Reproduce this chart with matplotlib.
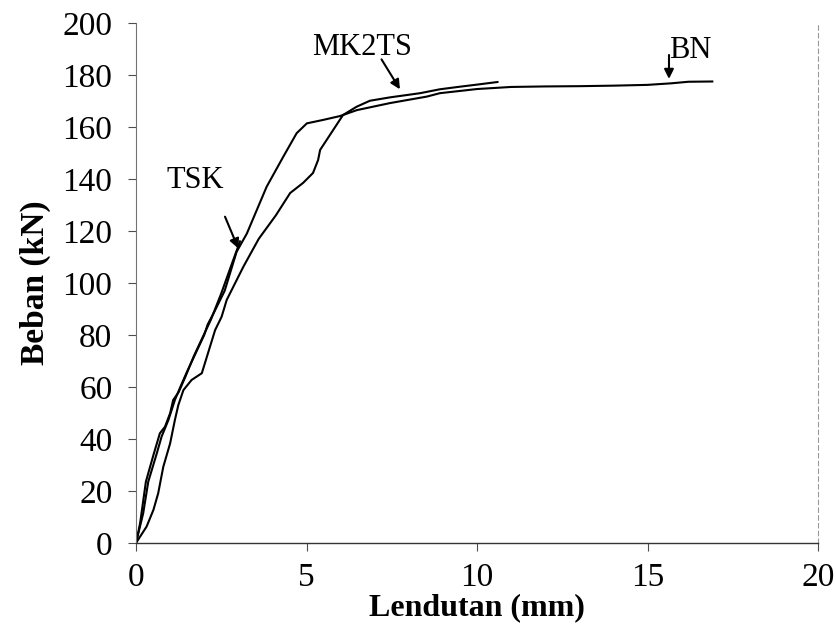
import matplotlib
matplotlib.use("Agg")
import matplotlib.pyplot as plt

# deflection (mm) vs load (kN)
bn_x = [0, 0.21, 0.36, 0.61, 0.75, 0.95, 1.14, 1.3, 1.5, 1.75, 2.0, 2.1, 2.3, 2.6, 2.95,
        3.25, 3.83, 4.32, 4.71, 5.01, 5.48, 5.98, 6.48, 7.45, 8.53, 8.91, 10.0, 11.0,
        12.0, 13.0, 14.0, 15.0, 15.7, 16.2, 16.9]
bn_y = [0, 11.4, 23.6, 34.5, 40.9, 47.3, 55, 60, 66, 73, 80, 84, 89, 97, 112,
        119, 137, 148.6, 157.6, 161.4, 162.7, 164.2, 166.5, 169.2, 171.7, 173, 174.6, 175.4,
        175.6, 175.7, 175.9, 176.2, 176.8, 177.4, 177.5]

mk_x = [0, 0.31, 0.51, 0.65, 0.80, 1.0, 1.14, 1.24, 1.39, 1.63, 1.93, 2.32, 2.51, 2.66,
        3.15, 3.6, 4.1, 4.52, 4.9, 5.19, 5.34, 5.40, 5.78, 6.07, 6.47, 6.86, 7.45, 8.33,
        8.91, 9.5, 10.0, 10.6]
mk_y = [0, 6.3, 12.7, 19.1, 29.3, 38.3, 47.3, 53, 58.8, 62.7, 65.3, 81.9, 87, 93.5,
        106.3, 117, 126, 134.6, 138.5, 142.3, 147.3, 151.2, 158.8, 164.6, 167.8, 170.1, 171.4, 173,
        174.5, 175.5, 176.3, 177.3]

tsk_x = [0, 0.12, 0.29, 0.51, 0.70, 0.85, 1.0, 1.09, 1.25, 1.45, 1.7, 1.95, 2.2, 2.5, 2.8, 3.05]
tsk_y = [0, 7.6, 23.6, 33.8, 42.2, 44.7, 49.9, 55, 58, 64, 72, 79, 86, 96, 107, 116]

x_ticks = [0, 5, 10, 15, 20]
y_ticks = [0, 20, 40, 60, 80, 100, 120, 140, 160, 180, 200]

plt.rcParams['font.family'] = ['Liberation Serif', 'DejaVu Serif']

fig = plt.figure(figsize=(8.37, 6.37), dpi=100)
ax = fig.add_axes([0.1625, 0.1476, 0.8148, 0.8163])

for xs, ys in [(bn_x, bn_y), (mk_x, mk_y), (tsk_x, tsk_y)]:
    ax.plot(xs, ys, color='black', lw=1.5)

ax.set_xlim(0, 20)
ax.set_ylim(0, 200)
ax.set_xticks(x_ticks)
ax.set_yticks(y_ticks)
ax.tick_params(axis='both', labelsize=24, direction='out', length=6, width=0.8, color='0.3')
ax.tick_params(axis='y', pad=11)
ax.tick_params(axis='x', pad=8)

ax.spines['top'].set_visible(False)
ax.spines['left'].set_color('0.45')
ax.spines['left'].set_linewidth(0.8)
ax.spines['bottom'].set_color('0.2')
ax.spines['bottom'].set_linewidth(1.0)
ax.spines['right'].set_color('0.6')
ax.spines['right'].set_linewidth(0.8)
ax.spines['right'].set_linestyle((0, (4, 3)))

ax.set_xlabel('Lendutan (mm)', fontsize=23, fontweight='bold', labelpad=0)
ax.set_ylabel('Beban (kN)', fontsize=24, fontweight='bold', labelpad=8)

arrow = dict(arrowstyle='-|>', color='black', lw=1.5, mutation_scale=14,
             shrinkA=0, shrinkB=0)
ax.text(1.73, 139.6, 'TSK', fontsize=22, ha='center', va='center')
ax.annotate('', xy=(3.0, 113.3), xytext=(2.61, 125.5), arrowprops=arrow)

ax.text(6.63, 190.7, 'MK2TS', fontsize=22, ha='center', va='center')
ax.annotate('', xy=(7.74, 174.5), xytext=(7.2, 186), arrowprops=arrow)

ax.text(16.25, 189.5, 'BN', fontsize=22, ha='center', va='center')
ax.annotate('', xy=(15.63, 178.5), xytext=(15.63, 187.7), arrowprops=arrow)

fig.savefig('out.png', dpi=100)
